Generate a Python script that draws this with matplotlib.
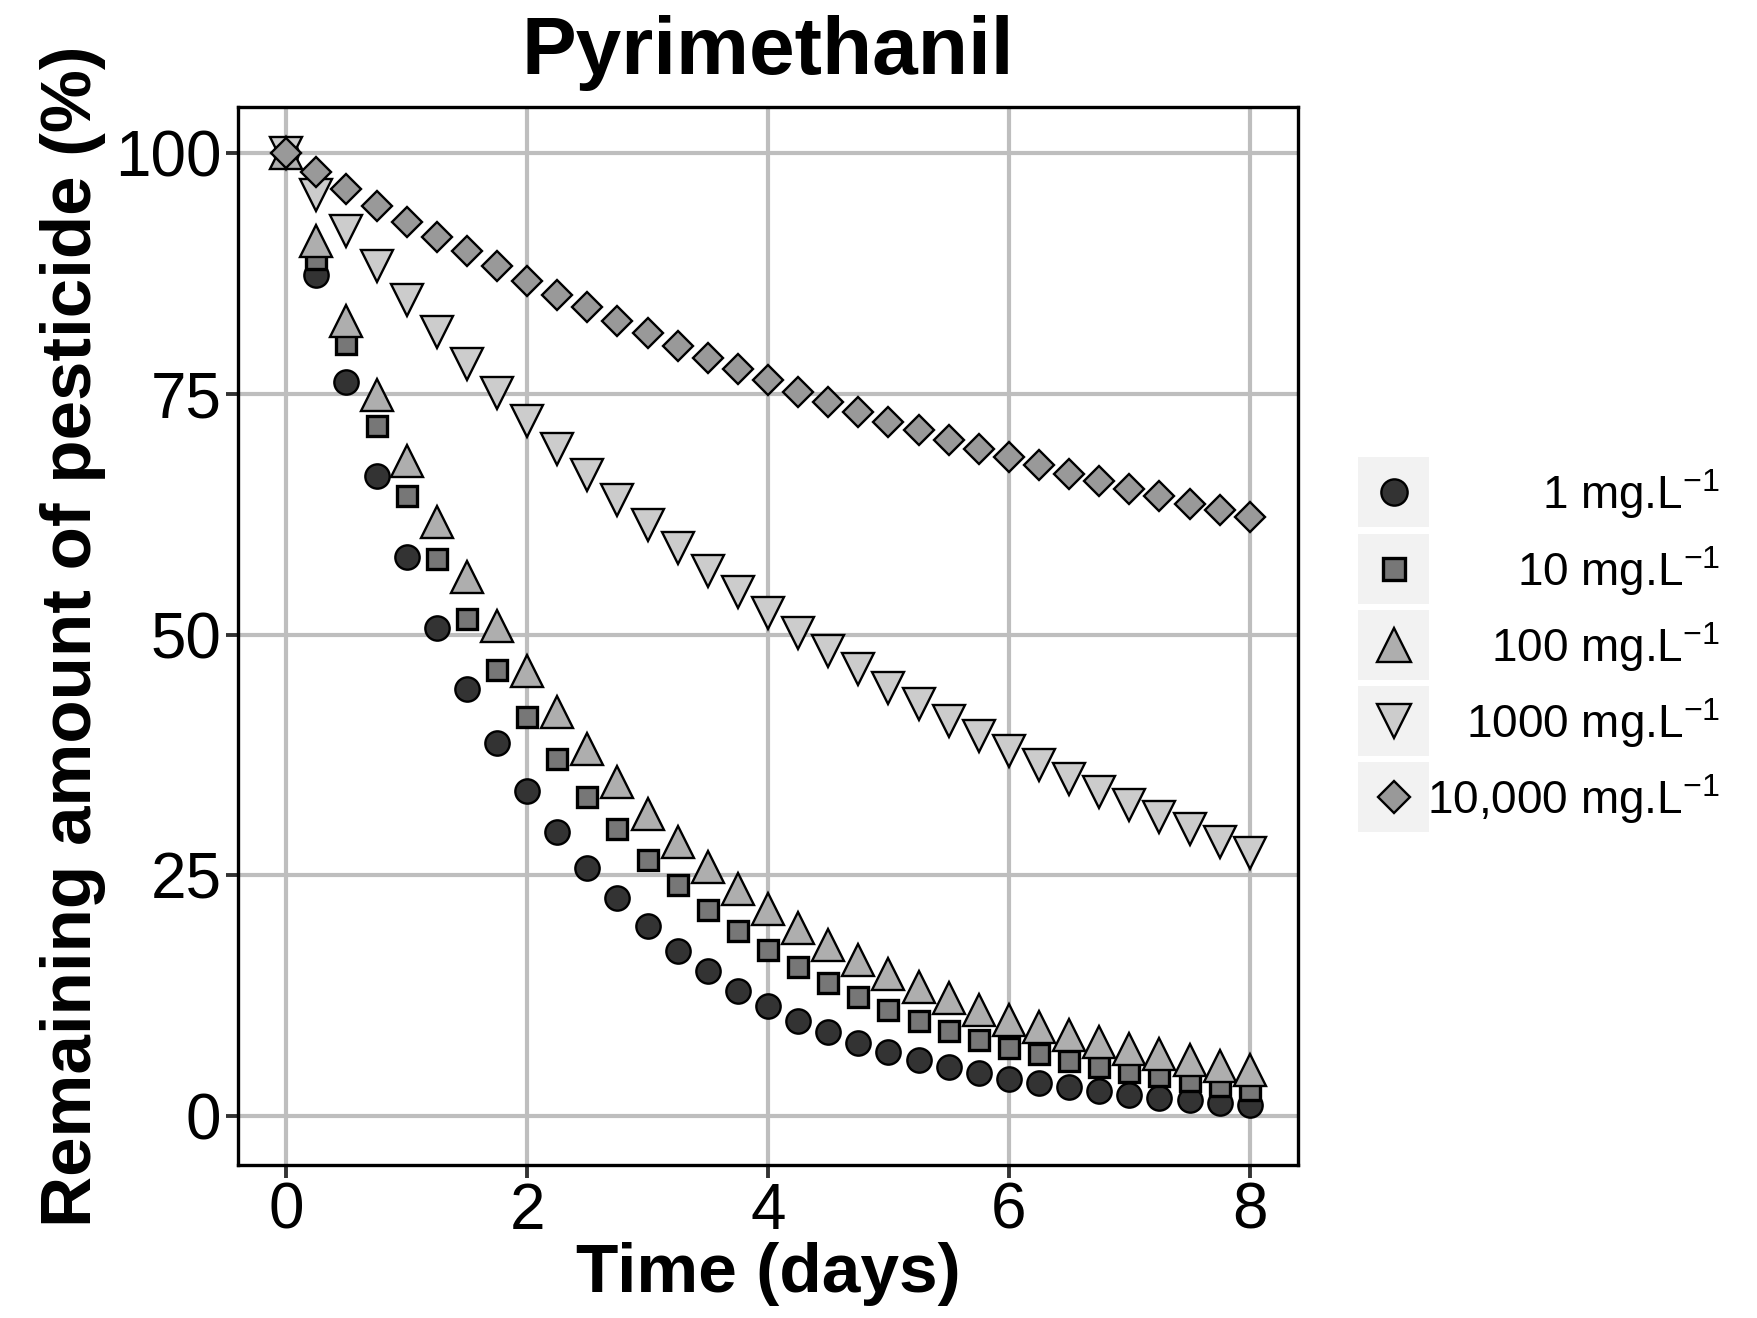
import matplotlib
matplotlib.use("Agg")
import matplotlib.pyplot as plt
from matplotlib.patches import Rectangle

plt.rcParams['font.family'] = ['Liberation Sans', 'DejaVu Sans']
plt.rcParams['mathtext.fontset'] = 'custom'
plt.rcParams['mathtext.rm'] = 'Liberation Sans'
plt.rcParams['mathtext.it'] = 'Liberation Sans'
plt.rcParams['mathtext.bf'] = 'Liberation Sans:bold'

# ---------------- data ----------------
time_days = [0, 0.25, 0.5, 0.75, 1, 1.25, 1.5, 1.75, 2, 2.25, 2.5, 2.75, 3, 3.25, 3.5, 3.75,
             4, 4.25, 4.5, 4.75, 5, 5.25, 5.5, 5.75, 6, 6.25, 6.5, 6.75, 7, 7.25, 7.5, 7.75, 8]

c1 = [100, 87.3, 76.2, 66.5, 58.1, 50.7, 44.3, 38.7, 33.8, 29.5, 25.8, 22.6, 19.7, 17.1, 15.0, 13.0,
      11.4, 9.9, 8.7, 7.6, 6.6, 5.8, 5.1, 4.5, 3.8, 3.4, 3.0, 2.6, 2.2, 1.9, 1.6, 1.3, 1.1]
c10 = [100, 89.0, 80.2, 71.7, 64.4, 57.8, 51.6, 46.3, 41.4, 37.1, 33.1, 29.8, 26.6, 24.0, 21.4, 19.2,
       17.2, 15.5, 13.8, 12.4, 11.0, 9.9, 8.8, 7.9, 7.1, 6.4, 5.7, 5.1, 4.6, 4.1, 3.6, 3.1, 2.7]
c100 = [100, 90.9, 82.6, 74.9, 68.0, 61.7, 56.0, 50.9, 46.2, 42.0, 38.1, 34.7, 31.4, 28.5, 25.9, 23.6,
        21.5, 19.5, 17.8, 16.2, 14.7, 13.4, 12.2, 11.0, 10.0, 9.2, 8.4, 7.7, 7.0, 6.4, 5.8, 5.2, 4.8]
c1000 = [100, 95.7, 91.9, 88.3, 84.8, 81.4, 78.1, 75.1, 72.2, 69.3, 66.6, 64.0, 61.4, 59.0, 56.6, 54.4,
         52.2, 50.2, 48.3, 46.4, 44.5, 42.8, 41.0, 39.5, 37.9, 36.4, 35.0, 33.6, 32.3, 31.0, 29.8, 28.5, 27.3]
c10000 = [100, 98.1, 96.3, 94.5, 92.9, 91.3, 89.8, 88.3, 86.7, 85.3, 84.0, 82.6, 81.3, 80.0, 78.7, 77.6,
          76.4, 75.2, 74.2, 73.1, 72.1, 71.2, 70.2, 69.3, 68.4, 67.6, 66.7, 65.9, 65.1, 64.4, 63.6, 62.9, 62.2]

series_labels = ['1 mg.L$^{-1}$', '10 mg.L$^{-1}$', '100 mg.L$^{-1}$',
                 '1000 mg.L$^{-1}$', '10,000 mg.L$^{-1}$']
series_values = [c1, c10, c100, c1000, c10000]
x_ticks = [0, 2, 4, 6, 8]
y_ticks = [0, 25, 50, 75, 100]

# ---------------- styles ----------------
markers = ['o', 's', '^', 'v', 'D']
fills = ['#333333', '#777777', '#aeaeae', '#cccccc', '#999999']
msizes = [17.5, 15.0, 23.0, 23.0, 15.5]
mews = [1.7, 2.4, 1.7, 1.7, 1.7]

W, H = 1757, 1318
fig = plt.figure(figsize=(W / 100, H / 100), dpi=100)
ax_l, ax_r, ax_t, ax_b = 238, 1298, 107, 1165
ax = fig.add_axes([ax_l / W, 1 - ax_b / H, (ax_r - ax_l) / W, (ax_b - ax_t) / H])

for vals, m, fc, ms, mew in zip(series_values, markers, fills, msizes, mews):
    ax.plot(time_days, vals, linestyle='none', marker=m, markersize=ms,
            markerfacecolor=fc, markeredgecolor='black', markeredgewidth=mew,
            zorder=3, clip_on=False)

ax.set_xlim(-0.4, 8.4)
ax.set_ylim(-5.1, 104.8)
ax.set_xticks(x_ticks)
ax.set_yticks(y_ticks)
ax.set_xticklabels([str(t) for t in x_ticks])
ax.set_yticklabels([str(t) for t in y_ticks])
ax.grid(True, color='#bebebe', linewidth=3.0, zorder=0)
ax.set_axisbelow(True)
for s in ax.spines.values():
    s.set_linewidth(2.4)
    s.set_color('black')
ax.tick_params(axis='both', length=9, width=2.8, color='#333333',
               labelsize=46, labelcolor='black', pad=3)

ax.set_xlabel('Time (days)', fontsize=50, fontweight='bold', labelpad=0)
ax.set_ylabel('Remaining amount of pesticide (%)', fontsize=51, fontweight='bold', labelpad=6)
ax.set_title('Pyrimethanil', fontsize=59, fontweight='bold', pad=24)

# ---------------- legend (pixel coordinates) ----------------
lax = fig.add_axes([0, 0, 1, 1])
lax.set_xlim(0, W)
lax.set_ylim(H, 0)
lax.axis('off')
row_centers = [492, 569, 645, 721, 797]
for yc, lab, m, fc, ms, mew in zip(row_centers, series_labels, markers, fills, msizes, mews):
    lax.add_patch(Rectangle((1358, yc - 35), 71, 70, facecolor='#f2f2f2', edgecolor='none'))
    lax.plot([1393.5], [yc], linestyle='none', marker=m, markersize=ms * 1.08,
             markerfacecolor=fc, markeredgecolor='black', markeredgewidth=mew)
    lax.text(1720, yc + 2, lab, ha='right', va='center', fontsize=33)

fig.savefig('out.png', dpi=100)
